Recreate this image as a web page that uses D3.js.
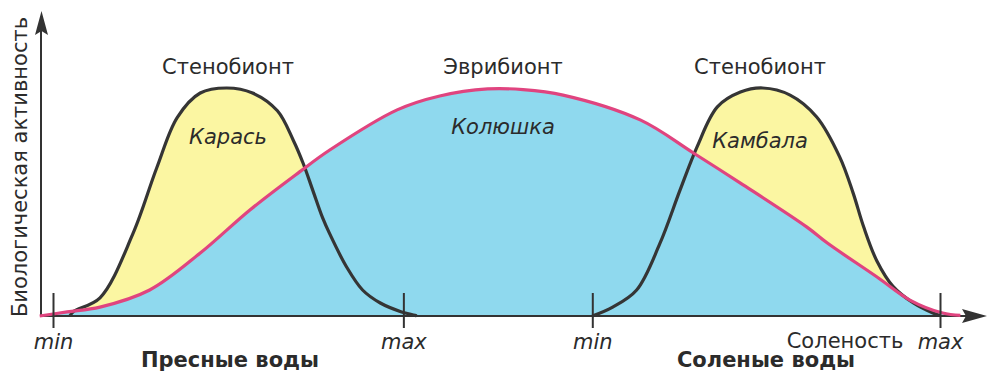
<html>
<head>
  <title> Стенобионты и эврибионты </title>
  <script src="https://d3js.org/d3.v7.min.js"></script>
  <style>
    body{
        margin: 0;
        background: #ffffff;
    }
    text{
        font-family: "DejaVu Sans", "Liberation Sans", Arial, sans-serif;
        fill: #2b2b2b;
    }
  </style>
</head>
<body>
    <svg id="chart" height="372" width="988"> </svg>
    <script>

        // salinity (0 = fresh min, 100 = salt max) vs biological activity (0..100)
        const karas = [[1.9,0],[2.3,2],[5.3,8],[9.0,36],[11.7,65],[14.0,87],[16.6,97.8],[19.6,100],
                       [22.5,97.8],[25.3,90],[27.1,77],[28.2,67],[29.3,55],[30.4,43],[31.2,36],
                       [33.1,21.5],[34.9,11.4],[36.9,5.7],[39.3,1.8],[40.8,0.3],[41.0,0]];
        const koliushka = [[-1.5,0],[1.6,1.8],[5.3,3.9],[10.9,11.4],[16.6,27.6],[22.2,46.5],[27.8,63.2],
                           [31.2,72.8],[38.8,90.4],[43.6,96.5],[49.0,99.6],[53.0,99.3],[57.5,96.9],[66.2,86],
                           [72.2,71.5],[77.5,58.3],[85,39],[87.3,32],[92.9,17.1],[96.6,7.0],
                           [100.3,1.3],[102.3,0.3]];
        const kambala = [[60.8,0],[63.1,3.9],[65.8,11.4],[68.4,31.6],[70.7,55.3],[72.6,74.1],[74.9,91.7],
                         [77.5,98.2],[80,100],[83.1,96.9],[86.1,87.3],[88.7,69.7],[90.2,54],
                         [91.4,39],[92.9,24],[94.7,13],[97,5.7],[99.2,1.3],[100.0,0.2]];

        const tickValues = [0, 39.5, 60.8, 100];
        const tickLabels = ["min", "max", "min", "max"];

        const svg = d3.select("#chart");
        const x = d3.scaleLinear().domain([0,100]).range([53,940]);
        const y = d3.scaleLinear().domain([0,100]).range([316,88]);

        const curve = d3.line().x(d => x(d[0])).y(d => y(d[1])).curve(d3.curveCatmullRom.alpha(0.5));
        const fill = d3.area().x(d => x(d[0])).y0(y(0)).y1(d => y(d[1])).curve(d3.curveCatmullRom.alpha(0.5));

        // fills: yellow stenobionts under, blue eurybiont on top
        svg.append("path").datum(karas).attr("d", fill).attr("fill", "#fbf6a2");
        svg.append("path").datum(kambala).attr("d", fill).attr("fill", "#fbf6a2");
        svg.append("path").datum(koliushka).attr("d", fill).attr("fill", "#8fd9ee");

        // axes with arrows
        let axisColor = "#333333";
        svg.append("line").attr("x1", 41).attr("y1", y(0)).attr("x2", 41).attr("y2", 30)
            .attr("stroke", axisColor).attr("stroke-width", 2);
        svg.append("path").attr("d", "M41.5,11 L48,35 L41.5,31 L35,35 Z").attr("fill", axisColor);
        svg.append("line").attr("x1", 40).attr("y1", y(0)).attr("x2", 968).attr("y2", y(0))
            .attr("stroke", axisColor).attr("stroke-width", 2);
        svg.append("path").attr("d", `M987,${y(0)} L962,${y(0)-7} L966,${y(0)} L962,${y(0)+7} Z`).attr("fill", axisColor);

        // curves
        svg.append("path").datum(karas).attr("d", curve)
            .attr("fill", "none").attr("stroke", "#353535").attr("stroke-width", 3.2);
        svg.append("path").datum(kambala).attr("d", curve)
            .attr("fill", "none").attr("stroke", "#353535").attr("stroke-width", 3.2);
        svg.append("path").datum(koliushka).attr("d", curve)
            .attr("fill", "none").attr("stroke", "#e0447f").attr("stroke-width", 3.2);

        // min / max ticks crossing the axis
        let bottomAxis = d3.axisBottom(x).tickValues(tickValues)
            .tickFormat((d, i) => tickLabels[i]).tickSize(12);
        let axisG = svg.append("g").attr("transform", `translate(0,${y(0)})`).call(bottomAxis);
        axisG.select(".domain").remove();
        axisG.selectAll(".tick line").attr("y1", -23).attr("stroke", axisColor).attr("stroke-width", 2);
        axisG.selectAll(".tick text")
            .attr("y", 33).attr("dy", null)
            .attr("font-size", 21).attr("font-style", "italic")
            .style("font-family", '"DejaVu Sans", "Liberation Sans", Arial, sans-serif')
            .attr("fill", "#2b2b2b");

        // titles
        let labels = svg.append("g").attr("font-size", 21).attr("text-anchor", "middle");
        labels.append("text").attr("x", 228).attr("y", 74).text("Стенобионт");
        labels.append("text").attr("x", 503).attr("y", 74).text("Эврибионт");
        labels.append("text").attr("x", 760).attr("y", 74).text("Стенобионт");
        labels.append("text").attr("x", 228).attr("y", 144).attr("font-style", "italic").text("Карась");
        labels.append("text").attr("x", 503).attr("y", 134).attr("font-style", "italic").text("Колюшка");
        labels.append("text").attr("x", 760).attr("y", 148).attr("font-style", "italic").text("Камбала");
        labels.append("text").attr("x", 845).attr("y", 348).text("Соленость");
        labels.append("text").attr("x", 230).attr("y", 367).attr("font-weight", "bold").attr("fill", "#3a3a3a").text("Пресные воды");
        labels.append("text").attr("x", 766).attr("y", 367).attr("font-weight", "bold").attr("fill", "#3a3a3a").text("Соленые воды");

        svg.append("text").attr("transform", "translate(27,167) rotate(-90)")
            .attr("text-anchor", "middle").attr("font-size", 21)
            .text("Биологическая активность");

    </script>
</body>
</html>
